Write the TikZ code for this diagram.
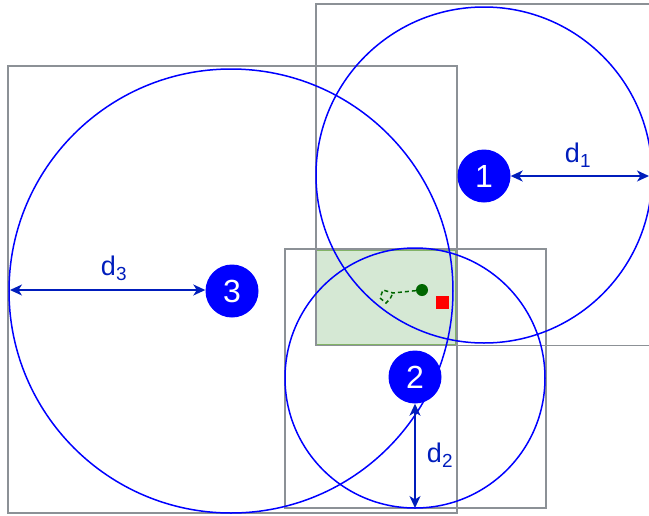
\documentclass[tikz,border=0pt]{standalone}
\usepackage{fontspec}
\setmainfont{Liberation Sans}
\usetikzlibrary{arrows.meta}
\definecolor{cblue}{HTML}{0000FF}
\definecolor{carrow}{HTML}{001DBC}
\definecolor{cgray}{HTML}{8C9196}
\definecolor{gfill}{HTML}{D5E8D4}
\definecolor{gdraw}{HTML}{82B366}
\definecolor{dgreen}{HTML}{006600}
\tikzset{
  box/.style={draw=cgray, line width=1.8pt},
  ring/.style={draw=cblue, line width=1.5pt},
  num/.style={circle, fill=cblue, inner sep=0pt, minimum size=53pt, text=white, font=\fontsize{32}{33}\selectfont},
  dim/.style={draw=carrow, line width=1.6pt, {Stealth[length=12pt,width=11pt,inset=3.5pt]}-{Stealth[length=12pt,width=11pt,inset=3.5pt]}},
  dlabel/.style={text=carrow, font=\fontsize{27}{28}\selectfont}
}
\begin{document}
\begin{tikzpicture}[x=1pt,y=-1pt]
\useasboundingbox (0,0) rectangle (649,515);
% green region
\draw[fill=gfill, draw=gdraw, line width=1.8pt] (316,250) rectangle (456,345);
% gray boxes
\draw[box] (316,4) rectangle (660,345.5);
\draw[box] (8,66) rectangle (457,513);
\draw[box] (285,249) rectangle (546,508);
% circles
\draw[ring] (484,175) circle (168);
\draw[ring] (231,291) circle (222);
\draw[ring] (415,378) circle (130);
% numbered nodes
\node[num] (n1) at (484,176) {1};
\node[num] (n2) at (415,377) {2};
\node[num] (n3) at (232,291) {3};
% dimension end points
\coordinate (e1) at (649,175);
\coordinate (e2) at (415,508);
\coordinate (e3) at (10,290);
\draw[dim] (n1.east) -- (e1 |- n1.east);
\draw[dim] (n2.south) -- (e2);
\draw[dim] (e3) -- (n3.west |- e3);
\node[dlabel] (l1) at (578,155) {d\textsubscript{1}};
\node[dlabel] (l2) at (440,455) {d\textsubscript{2}};
\node[dlabel] (l3) at (114,268) {d\textsubscript{3}};
% point and path
\node[circle, fill=dgreen, inner sep=0pt, minimum size=12pt] (p) at (422,290) {};
\coordinate (q) at (393,293);
\draw[dgreen, line width=1.5pt, dash pattern=on 4pt off 3pt] (p) -- (q) -- (383,290) -- (380,298) -- (386,303) -- (390,299) -- (q);
\node[fill=red, inner sep=0pt, minimum size=13pt] (r) at (442,302) {};
\end{tikzpicture}
\end{document}
